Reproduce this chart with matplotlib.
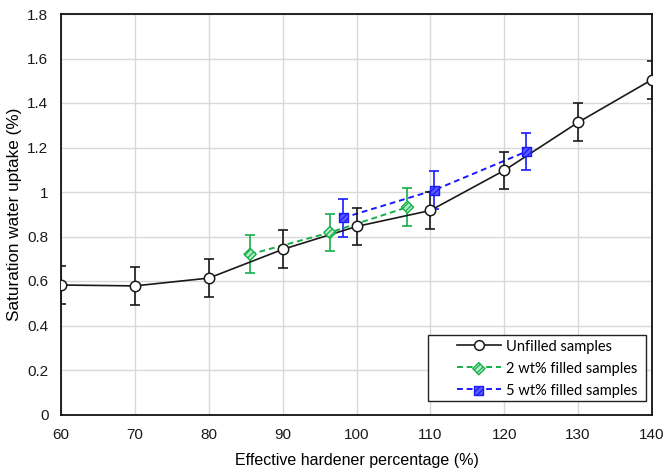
import matplotlib
matplotlib.use("Agg")
import matplotlib.pyplot as plt
from matplotlib.lines import Line2D
from matplotlib.patches import Rectangle
from matplotlib.ticker import FuncFormatter

# Unfilled samples
x_unfilled = [60, 70, 80, 90, 100, 110, 120, 130, 140]
y_unfilled = [0.582, 0.578, 0.613, 0.742, 0.845, 0.917, 1.097, 1.313, 1.505]
e_unfilled = [0.085, 0.085, 0.085, 0.085, 0.085, 0.085, 0.085, 0.085, 0.085]

# 2 wt% filled samples
x_2wt = [85.6, 96.4, 106.9]
y_2wt = [0.720, 0.818, 0.932]
e_2wt = [0.085, 0.085, 0.085]

# 5 wt% filled samples
x_5wt = [98.2, 110.5, 123.0]
y_5wt = [0.884, 1.008, 1.182]
e_5wt = [0.085, 0.085, 0.085]

x_ticks = [60, 70, 80, 90, 100, 110, 120, 130, 140]
y_ticks = [0, 0.2, 0.4, 0.6, 0.8, 1.0, 1.2, 1.4, 1.6, 1.8]

GREEN = "#14b04a"
BLUE = "#1a1aff"
BLACK = "#1a1a1a"

W, H = 667, 475
plt.rcParams["font.family"] = ["Liberation Sans", "DejaVu Sans"]
plt.rcParams["hatch.linewidth"] = 0.9

fig = plt.figure(figsize=(W / 100, H / 100), dpi=100)
ax = fig.add_axes([61 / W, (H - 414.5) / H, (652 - 61) / W, (414.5 - 14) / H])

# error bars + connecting lines
ax.errorbar(x_5wt, y_5wt, yerr=e_5wt, color=BLUE, lw=1.4, ls=(0, (3, 2)),
            elinewidth=1.2, capsize=3.5, capthick=1.2, zorder=3)
ax.errorbar(x_2wt, y_2wt, yerr=e_2wt, color=GREEN, lw=1.4, ls=(0, (3, 2)),
            elinewidth=1.2, capsize=3.5, capthick=1.2, zorder=4)
ax.errorbar(x_unfilled, y_unfilled, yerr=e_unfilled, color=BLACK, lw=1.2,
            elinewidth=1.2, capsize=3.5, capthick=1.2, zorder=5)

# markers
sc5 = ax.scatter(x_5wt, y_5wt, marker="s", s=42, facecolor="#5a5aff",
                 edgecolor=BLUE, linewidths=1.0, hatch="//////", zorder=6)
sc2 = ax.scatter(x_2wt, y_2wt, marker="D", s=38, facecolor="#b8ecc8",
                 edgecolor=GREEN, linewidths=1.0, hatch="//////", zorder=6)
ax.plot(x_unfilled, y_unfilled, ls="none", marker="o", ms=7.5,
        mfc="white", mec=BLACK, mew=1.1, zorder=7)

ax.set_xlim(60, 140)
ax.set_ylim(0, 1.8)
ax.set_xticks(x_ticks)
ax.set_yticks(y_ticks)
ax.yaxis.set_major_formatter(FuncFormatter(lambda v, p: f"{v:g}"))
ax.tick_params(axis="both", length=0, labelsize=11, colors="#1a1a1a")
ax.tick_params(axis="x", pad=10)
ax.tick_params(axis="y", pad=9)
ax.grid(True, color="#d9d9d9", lw=1.0)
ax.set_axisbelow(True)
for s in ax.spines.values():
    s.set_color("#111111")
    s.set_linewidth(1.3)

ax.set_xlabel("Effective hardener percentage (%)", fontsize=11.5, labelpad=8)
ax.set_ylabel("Saturation water uptake (%)", fontsize=12.3, labelpad=4)

# legend box (drawn separately for its wide side margins)
fig.patches.append(Rectangle((428 / W, (H - 401) / H), (646 - 428) / W, (401 - 335) / H,
                             transform=fig.transFigure, facecolor="white",
                             edgecolor="#222222", lw=1.0, zorder=10))

h_unf = Line2D([], [], color=BLACK, lw=1.2, marker="o", ms=7,
               mfc="white", mec=BLACK, mew=1.1)
h_2_line = Line2D([], [], color=GREEN, lw=1.4, ls=(0, (3, 2)))
h_5_line = Line2D([], [], color=BLUE, lw=1.4, ls=(0, (3, 2)))
leg = fig.legend([h_unf, (h_2_line, sc2), (h_5_line, sc5)],
                 ["Unfilled samples", "2 wt% filled samples", "5 wt% filled samples"],
                 loc="upper left", bbox_to_anchor=(457 / W, (H - 339.5) / H),
                 bbox_transform=fig.transFigure,
                 prop={"family": ["Lato", "DejaVu Sans"], "size": 10.5},
                 handlelength=3.0, handletextpad=0.35, borderpad=0,
                 labelspacing=0.55, frameon=False, scatterpoints=1,
                 borderaxespad=0)
leg.set_zorder(11)

fig.savefig("out.png", dpi=100)
